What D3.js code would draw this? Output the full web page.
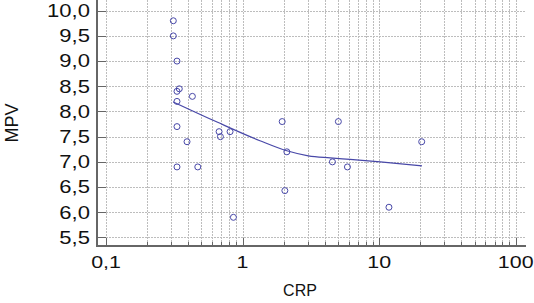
<!DOCTYPE html>
<html>
<head>
<meta charset="utf-8">
<script src="https://cdn.jsdelivr.net/npm/d3@7/dist/d3.min.js"></script>
<style>
  html, body { margin: 0; padding: 0; background: #fff; }
  svg { display: block; font-family: "Liberation Sans", Arial, sans-serif; }
</style>
</head>
<body>
<svg id="chart" width="534" height="303"></svg>
<script>
// CRP (x) and MPV (y) pairs
var crp = [0.311, 0.311, 0.331, 0.344, 0.331, 0.331, 0.429, 0.331, 0.392, 0.673, 0.688, 0.81,
           1.95, 5.03, 2.11, 0.331, 0.47, 2.04, 0.857, 4.55, 5.86, 20.5, 11.8];
var mpv = [9.8, 9.5, 9.0, 8.45, 8.4, 8.2, 8.3, 7.7, 7.4, 7.6, 7.5, 7.6,
           7.8, 7.8, 7.2, 6.9, 6.9, 6.43, 5.9, 7.0, 6.9, 7.4, 6.1];

// fitted curve
var fitX = [0.31, 0.65, 1.34, 2.11, 3.03, 4.38, 6.12, 10.2, 20.6];
var fitY = [8.19, 7.79, 7.42, 7.22, 7.12, 7.08, 7.05, 7.00, 6.92];

// tick labels
var yTicks = [5.5, 6.0, 6.5, 7.0, 7.5, 8.0, 8.5, 9.0, 9.5, 10.0];
var xMajor = [0.1, 1, 10, 100];
var xLabels = ["0,1", "1", "10", "100"];

drawChart();

function drawChart() {
  var svg = d3.select("#chart");
  var pLeft = 97, pRight = 526, pTop = 0, pBottom = 246;
  var blue = "#4848a8";

  var x = d3.scaleLog().domain([0.0859, 119]).range([pLeft, pRight]);
  var y = d3.scaleLinear().domain([5.331, 10.212]).range([pBottom, pTop]);

  // all log grid positions 0.1 .. 100
  var xGrid = [];
  [0.1, 1, 10].forEach(function (d) {
    for (var i = 1; i <= 9; i++) xGrid.push(+(d * i).toPrecision(3));
  });
  xGrid.push(100);

  // grid
  svg.append("g").selectAll("line").data(xGrid).enter().append("line")
    .attr("x1", function (d) { return Math.round(x(d)) + 0.5; })
    .attr("x2", function (d) { return Math.round(x(d)) + 0.5; })
    .attr("y1", pTop).attr("y2", pBottom)
    .attr("stroke", "#bdbdbd").attr("stroke-dasharray", "2,1");

  svg.append("g").selectAll("line").data(yTicks).enter().append("line")
    .attr("x1", pLeft).attr("x2", pRight)
    .attr("y1", function (d) { return Math.round(y(d)) + 0.5; })
    .attr("y2", function (d) { return Math.round(y(d)) + 0.5; })
    .attr("stroke", "#bdbdbd").attr("stroke-dasharray", "2,1");

  // ticks (inside)
  svg.append("g").selectAll("line").data(yTicks).enter().append("line")
    .attr("x1", pLeft).attr("x2", pLeft + 9)
    .attr("y1", function (d) { return Math.round(y(d)) + 0.5; })
    .attr("y2", function (d) { return Math.round(y(d)) + 0.5; })
    .attr("stroke", "#666");

  svg.append("g").selectAll("line").data(xGrid).enter().append("line")
    .attr("x1", function (d) { return Math.round(x(d)) + 0.5; })
    .attr("x2", function (d) { return Math.round(x(d)) + 0.5; })
    .attr("y1", pBottom)
    .attr("y2", function (d) { return xMajor.indexOf(d) >= 0 ? pBottom - 8 : pBottom - 4; })
    .attr("stroke", "#666");

  // axis lines
  svg.append("line").attr("x1", pLeft).attr("x2", pLeft).attr("y1", pTop).attr("y2", pBottom + 1)
    .attr("stroke", "#666").attr("stroke-width", 2);
  svg.append("line").attr("x1", pLeft - 1).attr("x2", pRight).attr("y1", pBottom).attr("y2", pBottom)
    .attr("stroke", "#666").attr("stroke-width", 2);

  // y tick labels (horizontally stretched like the original)
  svg.append("g").selectAll("text").data(yTicks).enter().append("text")
    .attr("transform", function (d) { return "translate(90," + (y(d) + 6.3) + ") scale(1.26,1)"; })
    .attr("text-anchor", "end")
    .attr("font-size", 17.5)
    .attr("fill", "#111")
    .text(function (d) { return d.toFixed(1).replace(".", ","); });

  // x tick labels
  svg.append("g").selectAll("text").data(xMajor).enter().append("text")
    .attr("transform", function (d) { return "translate(" + x(d) + ",268) scale(1.26,1)"; })
    .attr("text-anchor", "middle")
    .attr("font-size", 17)
    .attr("fill", "#111")
    .text(function (d, i) { return xLabels[i]; });

  // axis titles
  svg.append("text").attr("x", 300).attr("y", 296).attr("text-anchor", "middle")
    .attr("font-size", 16).attr("fill", "#111").text("CRP");
  svg.append("text").attr("transform", "translate(18,123) rotate(-90)")
    .attr("text-anchor", "middle").attr("font-size", 18).attr("fill", "#111").text("MPV");

  // fitted curve
  var line = d3.line()
    .x(function (d) { return x(d[0]); })
    .y(function (d) { return y(d[1]); })
    .curve(d3.curveMonotoneX);
  svg.append("path")
    .datum(d3.zip(fitX, fitY))
    .attr("d", line)
    .attr("fill", "none").attr("stroke", blue).attr("stroke-width", 1.2);

  // points
  svg.append("g").selectAll("circle").data(d3.zip(crp, mpv)).enter().append("circle")
    .attr("cx", function (d) { return x(d[0]); })
    .attr("cy", function (d) { return y(d[1]); })
    .attr("r", 3)
    .attr("fill", "none").attr("stroke", blue).attr("stroke-width", 1);
}
</script>
</body>
</html>
